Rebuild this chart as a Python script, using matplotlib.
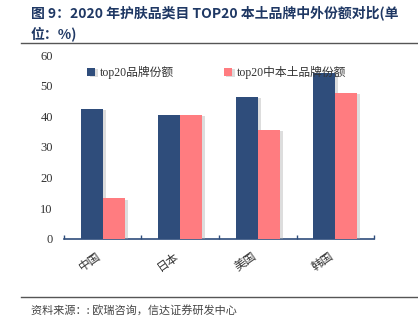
import matplotlib.pyplot as plt
import matplotlib.patheffects as pe
import numpy as np

# Datos del grafico
paises = ['中国', '日本', '美国', '韩国']
top20 = [42.5, 40.5, 46.3, 54.2]
top20_local = [13.2, 40.5, 35.5, 47.7]
yticks = [0, 10, 20, 30, 40, 50, 60]

dark = '#2F4D7B'
pink = '#FF7C80'
cjk = ['Noto Sans CJK SC', 'DejaVu Sans']
serif = ['Liberation Serif', 'Noto Sans CJK SC']

fig = plt.figure(figsize=(4.18, 3.29), dpi=100)
ax = fig.add_axes([0.153, 0.2745, 0.742, 0.558])

x = np.arange(len(paises))
w = 0.285
shadow = [pe.SimplePatchShadow(offset=(2, -1), shadow_rgbFace='#aaaaaa', alpha=0.4), pe.Normal()]
b1 = ax.bar(x - w / 2, top20, w, color=dark, label='top20品牌份额', zorder=3)
b2 = ax.bar(x + w / 2, top20_local, w, color=pink, label='top20中本土品牌份额', zorder=3)
for b in list(b1) + list(b2):
    b.set_path_effects(shadow)

ax.set_xlim(-0.5, len(paises) - 0.5)
ax.set_ylim(0, 60)
ax.set_yticks(yticks)
ax.set_yticklabels([str(v) for v in yticks], family=serif, fontsize=9, color='#333333')
ax.tick_params(axis='y', length=0, pad=8)

# Eje x con marcas en los limites de cada grupo
ax.set_xticks(np.arange(-0.5, len(paises)), minor=False)
ax.set_xticklabels([])
ax.tick_params(axis='x', direction='in', length=3, color=dark, width=1)
for i, p in enumerate(paises):
    ax.text(i - 0.16, -0.06, p, transform=ax.get_xaxis_transform(), rotation=35,
            ha='center', va='top', family=cjk, fontsize=8.5, color='#333333')

for s in ['top', 'right', 'left']:
    ax.spines[s].set_visible(False)
ax.spines['bottom'].set_color(dark)
ax.spines['bottom'].set_linewidth(1.2)

leg = ax.legend(loc='upper left', bbox_to_anchor=(0.04, 1.0), ncol=2, frameon=False,
                prop={'family': serif, 'size': 8.5}, handlelength=0.7, handleheight=0.7,
                handletextpad=0.4, columnspacing=4.2)
for t in leg.get_texts():
    t.set_color('#333333')

# Titulo y lineas
fig.text(0.073, 0.985, '图 9：2020 年护肤品类目 TOP20 本土品牌中外份额对比(单\n位：%)',
         family=cjk, fontsize=10, fontweight='bold', color='#1F3864', va='top', linespacing=1.5)
fig.add_artist(plt.Line2D([0.05, 1.0], [0.868, 0.868], color='#555555', lw=1))
fig.add_artist(plt.Line2D([0.05, 1.0], [0.097, 0.097], color='#555555', lw=1))
fig.text(0.075, 0.055, '资料来源：: 欧瑞咨询，信达证券研发中心', family=cjk, fontsize=8,
         style='italic', color='#444444', va='center')

plt.savefig('out.png', dpi=100)
